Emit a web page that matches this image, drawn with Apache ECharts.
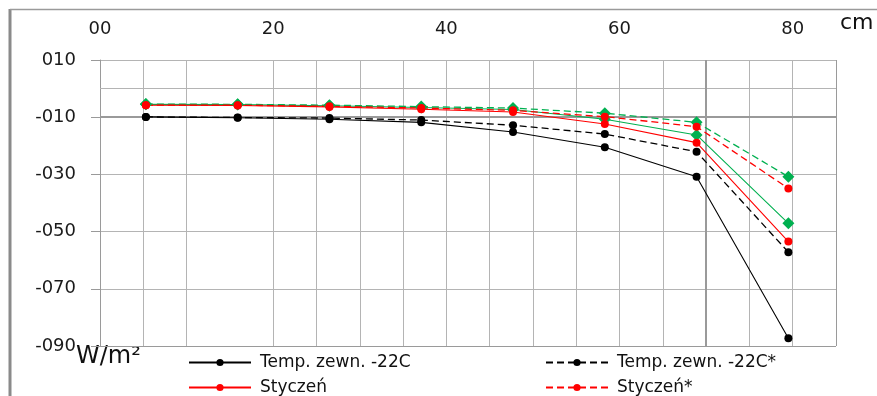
<!DOCTYPE html>
<html>
<head>
<meta charset="utf-8">
<script src="https://cdn.jsdelivr.net/npm/echarts@6/dist/echarts.min.js"></script>
<style>
html,body{margin:0;padding:0;background:#fff;}
#c{width:877px;height:396px;}
</style>
</head>
<body>
<div id="c"></div>
<script>
// Data
const xPositions = [5.3, 15.9, 26.5, 37.1, 47.7, 58.3, 68.9, 79.5];
const tempSolid   = [-9.9, -10.2, -10.7, -11.8, -15.2, -20.5, -30.8, -87.3];
const tempDashed  = [-9.9, -10.1, -10.3, -11.0, -12.8, -15.9, -22.1, -57.2];
const styczen     = [-5.8, -5.9, -6.4, -7.2, -8.2, -12.4, -18.9, -53.5];
const styczenStar = [-5.8, -5.8, -6.2, -6.8, -7.6, -9.8, -13.3, -34.9];
const greenSolid  = [-5.5, -5.6, -6.0, -6.6, -7.3, -10.7, -16.2, -47.1];
const greenDashed = [-5.4, -5.5, -5.8, -6.3, -6.8, -8.6, -11.8, -30.8];
const seriesNames = ['Temp. zewn. -22C', 'Temp. zewn. -22C*', 'Styczeń', 'Styczeń*', 'Seria 5', 'Seria 6'];
const xTickLabels = ['00', '20', '40', '60', '80'];
const yTickLabels = ['-090', '-070', '-050', '-030', '-010', '010'];

function pairs(vals) { return vals.map((v, i) => [xPositions[i], v]); }

const FONT = 'DejaVu Sans';
const GRID = '#b4b4b4';
const DARK = '#9a9a9a';

// x split line colors: 0..85 step 5 (18 lines); 15 missing, 70 and 85 darker
const xSplitColors = [];
for (let v = 0; v <= 85; v += 5) {
  if (v === 15) xSplitColors.push('rgba(0,0,0,0)');
  else if (v === 70 || v === 85) xSplitColors.push(DARK);
  else xSplitColors.push(GRID);
}

function mk(name, data, color, dashed, symbol, size) {
  return {
    name: name, type: 'line', data: pairs(data),
    symbol: symbol, symbolSize: size,
    itemStyle: { color: color },
    lineStyle: { color: color, width: dashed ? 1.3 : 1.1, type: dashed ? [7, 4] : 'solid' },
    z: 5
  };
}

const series = [
  mk(seriesNames[5], greenDashed, '#00b050', true, 'diamond', 12),
  mk(seriesNames[4], greenSolid, '#00b050', false, 'diamond', 12),
  mk(seriesNames[3], styczenStar, '#ff0000', true, 'circle', 8),
  mk(seriesNames[2], styczen, '#ff0000', false, 'circle', 8),
  mk(seriesNames[1], tempDashed, '#000000', true, 'circle', 8),
  mk(seriesNames[0], tempSolid, '#000000', false, 'circle', 8)
];
// reference lines (gridline at 0 and darker line at -10, darker at x=70)
series.push({
  type: 'line', data: [], silent: true,
  markLine: {
    silent: true, symbol: 'none', label: { show: false },
    data: [
      { yAxis: 0, lineStyle: { color: GRID, width: 1, type: 'solid' } },
      { yAxis: -10, lineStyle: { color: DARK, width: 2, type: 'solid' } },
      { xAxis: 70, lineStyle: { color: DARK, width: 2, type: 'solid' } }
    ]
  },
  z: 1
});

function leg(name, left, top) {
  return {
    data: [name], left: left, top: top, itemWidth: 62, itemHeight: 9, itemGap: 10,
    textStyle: { fontFamily: FONT, fontSize: 17, color: '#111', padding: [0, 0, 0, 4] }
  };
}

const chart = echarts.init(document.getElementById('c'), null, { renderer: 'canvas' });
chart.setOption({
  animation: false,
  backgroundColor: '#fff',
  textStyle: { fontFamily: FONT },
  grid: { left: 100, right: 41, top: 60, bottom: 50, containLabel: false },
  xAxis: {
    type: 'value', position: 'top', min: 0, max: 85, interval: 5,
    axisLine: { show: false },
    axisTick: { show: false },
    axisLabel: {
      fontFamily: FONT, fontSize: 18, color: '#1a1a1a', margin: 22,
      formatter: function (v) { return (v % 20 === 0) ? xTickLabels[v / 20] : ''; }
    },
    splitLine: { show: true, lineStyle: { color: xSplitColors, width: 1 } }
  },
  yAxis: {
    type: 'value', min: -90, max: 10, interval: 20,
    axisLine: { show: true, lineStyle: { color: DARK, width: 1 } },
    axisTick: { show: true, length: 9, lineStyle: { color: DARK } },
    axisLabel: {
      fontFamily: FONT, fontSize: 18, color: '#1a1a1a', margin: 24,
      formatter: function (v) { return yTickLabels[(v + 90) / 20]; }
    },
    splitLine: { show: true, lineStyle: { color: [DARK, GRID, GRID, GRID, GRID, GRID], width: 1 } }
  },
  legend: [
    leg(seriesNames[0], 183, 349),
    leg(seriesNames[2], 183, 374),
    leg(seriesNames[1], 540, 349),
    leg(seriesNames[3], 540, 374)
  ],
  graphic: [
    { type: 'line', shape: { x1: 10, y1: 9, x2: 10, y2: 396 }, style: { stroke: '#8a8a8a', lineWidth: 3 } },
    { type: 'line', shape: { x1: 10, y1: 9.5, x2: 877, y2: 9.5 }, style: { stroke: '#9a9a9a', lineWidth: 1.5 } },
    { type: 'text', left: 840, top: 12, style: { text: 'cm', font: '22px "DejaVu Sans"', fill: '#111' } },
    { type: 'text', left: 76, top: 345, style: { text: 'W/m²', font: '24px "DejaVu Sans"', fill: '#111' } }
  ],
  series: series
});
</script>
</body>
</html>
